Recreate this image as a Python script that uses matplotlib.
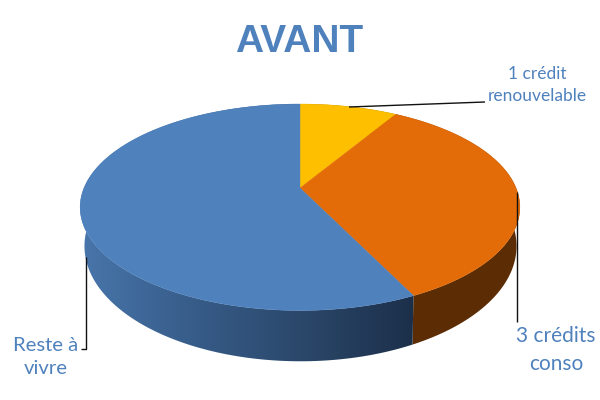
import numpy as np
import matplotlib
matplotlib.use("Agg")
import matplotlib.pyplot as plt
from matplotlib.colors import LinearSegmentedColormap
from matplotlib.patches import Polygon

title = "AVANT"
labels = ["1 crédit\nrenouvelable", "3 crédits\nconso", "Reste à\nvivre"]
shares = [8.6, 34.2, 57.2]
top_colors = ["#fdbf00", "#e36c09", "#4f81bd"]

TXT = "#4f81bd"
fig = plt.figure(figsize=(6, 4), dpi=100, facecolor="white")
ax = fig.add_axes([0, 0, 1, 1])
ax.set_xlim(0, 600)
ax.set_ylim(400, 0)
ax.axis("off")


def top_rim(t):
    u, v = np.sin(t), np.cos(t)
    d = 1 + 0.1864 * v
    return 300 + 216 * u / d, (188 - 64.6 * v) / d


def bottom_rim(t):
    u, v = np.sin(t), np.cos(t)
    d = 1 + 0.1923 * v
    return 300.5 + 212 * u / d, (223.9 - 67.9 * v) / d


edges = np.concatenate([[0], np.cumsum(shares)]) / np.sum(shares) * 2 * np.pi

blue_side = LinearSegmentedColormap.from_list(
    "blue_side",
    [(0.0, "#4a78ae"), (0.37, "#365b87"), (0.657, "#2b486b"), (1.0, "#1b2e48")],
)
orange_side = LinearSegmentedColormap.from_list("orange_side", ["#5c2d04", "#5c2d04"])
yellow_side = LinearSegmentedColormap.from_list("yellow_side", ["#7f6000", "#7f6000"])
side_maps = [yellow_side, orange_side, blue_side]
grad = np.linspace(0, 1, 256)[None, :]

# side wall: one gradient image per slice, clipped to the slice's wall outline
for i in range(len(shares)):
    ts = np.linspace(edges[i], edges[i + 1], 240)
    xt, yt = top_rim(ts)
    xb, yb = bottom_rim(ts)
    outline = np.column_stack([np.r_[xt, xb[::-1]], np.r_[yt, yb[::-1]]])
    extent = (70, 420, 400, 0) if i == 2 else (0, 600, 400, 0)
    im = ax.imshow(grad, cmap=side_maps[i], extent=extent, aspect="auto", zorder=2,
                   interpolation="bilinear")
    patch = Polygon(outline, closed=True, transform=ax.transData, facecolor="none", edgecolor="none")
    ax.add_patch(patch)
    im.set_clip_path(patch)

ax.set_xlim(0, 600)
ax.set_ylim(400, 0)

# top face
for i in range(len(shares)):
    ts = np.linspace(edges[i], edges[i + 1], 200)
    x, y = top_rim(ts)
    ax.fill(np.r_[300, x], np.r_[188, y], color=top_colors[i], lw=0.3, zorder=3)

# leader lines
lk = dict(color="#111111", lw=1.0, zorder=4, solid_capstyle="butt")
ax.plot([349, 485], [107, 102], **lk)
ax.plot([517, 517], [192, 322], **lk)
ax.plot([81, 86, 86], [349, 349, 257], **lk)

ax.text(299.5, 52, title, ha="center", va="baseline", family="Liberation Sans",
        fontweight="bold", fontsize=28, color=TXT)
ax.text(537, 85, labels[0], ha="center", va="center", family="Lato", fontsize=12.5,
        color=TXT, linespacing=1.45)
ax.text(556, 350, labels[1], ha="center", va="center", family="Lato", fontsize=15,
        color=TXT, linespacing=1.45)
ax.text(46, 357, labels[2], ha="center", va="center", family="Lato", fontsize=14.6,
        color=TXT, linespacing=1.45)

fig.savefig("out.png", dpi=100, facecolor="white")
